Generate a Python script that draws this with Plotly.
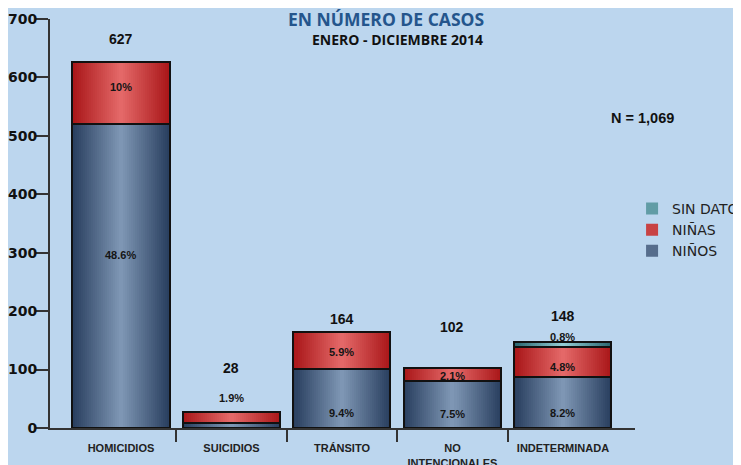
import plotly.graph_objects as go

# datos
categories = ["HOMICIDIOS", "SUICIDIOS", "TRÁNSITO", "NO<br>INTENCIONALES", "INDETERMINADA"]
ninos = [520, 8, 101, 80, 88]
ninas = [107, 20, 63, 22, 51]
sin_dato = [0, 0, 0, 0, 9]
pct_ninos = ["48.6%", "", "9.4%", "7.5%", "8.2%"]
pct_ninas = ["10%", "1.9%", "5.9%", "2.1%", "4.8%"]
pct_sin_dato = ["", "", "", "", "0.8%"]
y_ticks = [0, 100, 200, 300, 400, 500, 600, 700]
n_text = "N = 1,069"

# estilo
BG = "#bcd6ee"
BAR_W = 0.878
LAYERS = 24
LABEL_FONT = "Liberation Sans, Arial, sans-serif"

# desplazamientos (px) de las etiquetas respecto a su segmento
shift_ninos = [21, 0, -15, -9, -11]
shift_ninas = [6, 19, -1, -1, -5]
shift_sin = [0, 0, 0, 0, 7]
shift_total = [23, 44, 13, 41, 26]

x = list(range(len(categories)))
base_zero = [0] * len(x)
base_sin = [a + b for a, b in zip(ninos, ninas)]
totals = [a + b + c for a, b, c in zip(ninos, ninas, sin_dato)]


def shade(edge, center, t):
    return "rgb(%d,%d,%d)" % tuple(round(e + (c - e) * t) for e, c in zip(edge, center))


series = [
    ("NIÑOS", ninos, base_zero, (42, 64, 96), (126, 150, 180), 3),
    ("NIÑAS", ninas, ninos, (170, 24, 26), (228, 104, 104), 2),
    ("SIN DATO", sin_dato, base_sin, (44, 104, 114), (146, 204, 212), 1),
]

fig = go.Figure()

# barras con degradado horizontal (capas superpuestas)
for name, vals, base, edge, center, rank in series:
    for i in range(LAYERS):
        t = i / (LAYERS - 1)
        fig.add_trace(go.Bar(
            x=x, y=vals, base=base,
            width=BAR_W * (1 - i / LAYERS),
            marker=dict(color=shade(edge, center, t), line=dict(width=0)),
            name=name,
            showlegend=(i == LAYERS // 2),
            legendrank=rank,
            hoverinfo="skip",
        ))

# contorno negro de cada segmento
for name, vals, base, edge, center, rank in series:
    fig.add_trace(go.Bar(
        x=x, y=vals, base=base, width=BAR_W,
        marker=dict(color="rgba(0,0,0,0)", line=dict(color="#111", width=2)),
        name=name, showlegend=False,
        hovertemplate=name + ": %{y}<extra></extra>",
    ))

annotations = []
for texts, vals, base, shifts in [
    (pct_ninos, ninos, base_zero, shift_ninos),
    (pct_ninas, ninas, ninos, shift_ninas),
    (pct_sin_dato, sin_dato, base_sin, shift_sin),
]:
    for xi, txt, v, b, s in zip(x, texts, vals, base, shifts):
        if txt:
            annotations.append(dict(
                x=xi, y=b + v / 2, text="<b>%s</b>" % txt, showarrow=False,
                yshift=s, font=dict(family=LABEL_FONT, size=11, color="#151515"),
            ))

for xi, tot, s in zip(x, totals, shift_total):
    annotations.append(dict(
        x=xi, y=tot, text="<b>%d</b>" % tot, showarrow=False, yshift=s,
        font=dict(family=LABEL_FONT, size=14, color="#111"),
    ))

annotations += [
    dict(xref="paper", yref="paper", x=0.574, y=1.0, yanchor="middle",
         text="<b>EN NÚMERO DE CASOS</b>", showarrow=False, yshift=0,
         font=dict(family="Open Sans, sans-serif", size=17.5, color="#24558c")),
    dict(xref="paper", yref="paper", x=0.594, y=1.0, yanchor="middle",
         text="<b>ENERO - DICIEMBRE 2014</b>", showarrow=False, yshift=-20,
         font=dict(family="Open Sans, sans-serif", size=14, color="#111")),
    dict(xref="paper", yref="paper", x=1.012, y=0.758, xanchor="center",
         yanchor="middle", text="<b>%s</b>" % n_text, showarrow=False,
         font=dict(family=LABEL_FONT, size=14.5, color="#111")),
]

# la pagina desplaza la figura 8 px (margen del body): se compensa aqui
fig.update_layout(
    width=741, height=465,
    margin=dict(l=42, r=114, t=11, b=45, autoexpand=False),
    paper_bgcolor=BG, plot_bgcolor=BG,
    barmode="overlay",
    bargap=0,
    annotations=annotations,
    legend=dict(
        x=0.995, y=0.575, xanchor="left", yanchor="top",
        bgcolor="rgba(0,0,0,0)", tracegroupgap=0,
        font=dict(family="DejaVu Sans, sans-serif", size=14, color="#222"),
    ),
    xaxis=dict(
        range=[-0.6425, 4.652], tickvals=x, ticktext=["<b>%s</b>" % c for c in categories],
        ticks="", showline=True, linecolor="#333", linewidth=2,
        showgrid=False, zeroline=False, automargin=False, ticklabelstandoff=9,
        tickfont=dict(family=LABEL_FONT, size=11, color="#222"),
        minor=dict(tickvals=[i + 0.5 for i in x[:-1]], ticks="outside",
                   ticklen=12, tickwidth=2, tickcolor="#333", showgrid=False),
    ),
    yaxis=dict(
        range=[0, 700], tickvals=y_ticks, ticks="outside", ticklen=12,
        tickwidth=2, tickcolor="#333", showline=True, linecolor="#333",
        linewidth=2, showgrid=False, zeroline=False, automargin=False,
        ticklabelstandoff=-4,
        tickfont=dict(family="DejaVu Sans, sans-serif", size=14, color="#111",
                      weight="bold"),
    ),
)

fig.write_html("out.html")
